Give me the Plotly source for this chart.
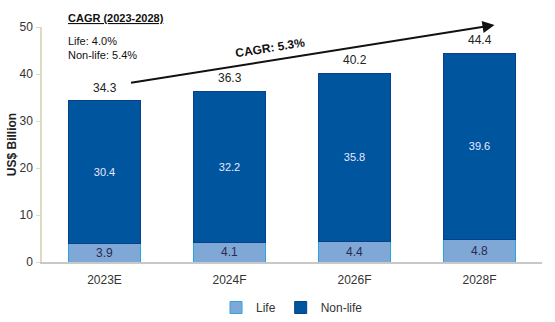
import plotly.graph_objects as go

# Insurance market size by segment, US$ billion
categories = ["2023E", "2024F", "2026F", "2028F"]
life = [3.9, 4.1, 4.4, 4.8]
non_life = [30.4, 32.2, 35.8, 39.6]
y_ticks = [0, 10, 20, 30, 40, 50]

totals = [round(a + b, 1) for a, b in zip(life, non_life)]

FONT = "Liberation Sans, Arial, sans-serif"
LIFE_COLOR = "#80a8d6"
NONLIFE_COLOR = "#00559f"

fig = go.Figure()

fig.add_trace(go.Bar(
    x=categories, y=life, name="Life",
    marker=dict(color=LIFE_COLOR, line=dict(color="#29a6e0", width=1)),
    text=[f"{v:.1f}" for v in life], textposition="inside",
    insidetextanchor="middle", constraintext="none",
    textfont=dict(family=FONT, size=12, color="#2a2a55"),
))
fig.add_trace(go.Bar(
    x=categories, y=non_life, name="Non-life",
    marker=dict(color=NONLIFE_COLOR, line=dict(color="#0a3f8a", width=1)),
    text=[f"{v:.1f}" for v in non_life], textposition="inside",
    insidetextanchor="middle", constraintext="none",
    textfont=dict(family=FONT, size=11, color="#e8e8ff"),
))

# Totals above each stacked bar
for cat, tot in zip(categories, totals):
    fig.add_annotation(x=cat, y=tot, text=f"{tot:.1f}", showarrow=False,
                       yshift=13, font=dict(family=FONT, size=12, color="#222222"))

# Growth arrow across the bars
fig.add_annotation(x=3.12, y=50.4, ax=0.2, ay=38.1, axref="x", ayref="y",
                   xref="x", yref="y", text="", showarrow=True,
                   arrowhead=2, arrowsize=1.2, arrowwidth=2, arrowcolor="#111111")
fig.add_annotation(x=1.32, y=45.6, xref="x", yref="y", text="<b>CAGR: 5.3%</b>",
                   showarrow=False, textangle=-9,
                   font=dict(family=FONT, size=12, color="#111111"))

# CAGR summary in the top-left corner
fig.add_annotation(xref="paper", yref="paper", x=0.048, y=1.038,
                   xanchor="left", yanchor="middle",
                   text="<b><u>CAGR (2023-2028)</u></b>", showarrow=False,
                   font=dict(family=FONT, size=11, color="#111111"))
fig.add_annotation(xref="paper", yref="paper", x=0.048, y=0.975,
                   xanchor="left", yanchor="top",
                   text="Life: 4.0%<br>Non-life: 5.4%", showarrow=False, align="left",
                   font=dict(family=FONT, size=11, color="#111111"))

fig.update_layout(
    barmode="stack",
    bargap=0.43,
    width=555, height=322,
    margin=dict(l=42, r=13, t=27, b=60, autoexpand=False),
    plot_bgcolor="white", paper_bgcolor="white",
    font=dict(family=FONT, size=12, color="#333333"),
    showlegend=True,
    legend=dict(orientation="h", x=0.5, xanchor="center",
                yref="container", y=0.0, yanchor="bottom",
                font=dict(family=FONT, size=12, color="#333333"),
                itemwidth=30, traceorder="normal"),
    xaxis=dict(showline=True, linecolor="#c8c8c8", linewidth=1.5, ticks="",
               ticklabelstandoff=6,
               tickfont=dict(family=FONT, size=12, color="#333333")),
    yaxis=dict(range=[0, 50], tickvals=y_ticks, showgrid=False, zeroline=False,
               showline=True, linecolor="#dcdcc0", linewidth=1.5,
               ticks="outside", ticklen=4, tickcolor="#dcdcc0",
               ticklabelstandoff=1,
               tickfont=dict(family=FONT, size=12, color="#333333"),
               title=dict(text="<b>US$ Billion</b>", standoff=0,
                          font=dict(family=FONT, size=12, color="#222222"))),
)

fig.write_html("out.html")
